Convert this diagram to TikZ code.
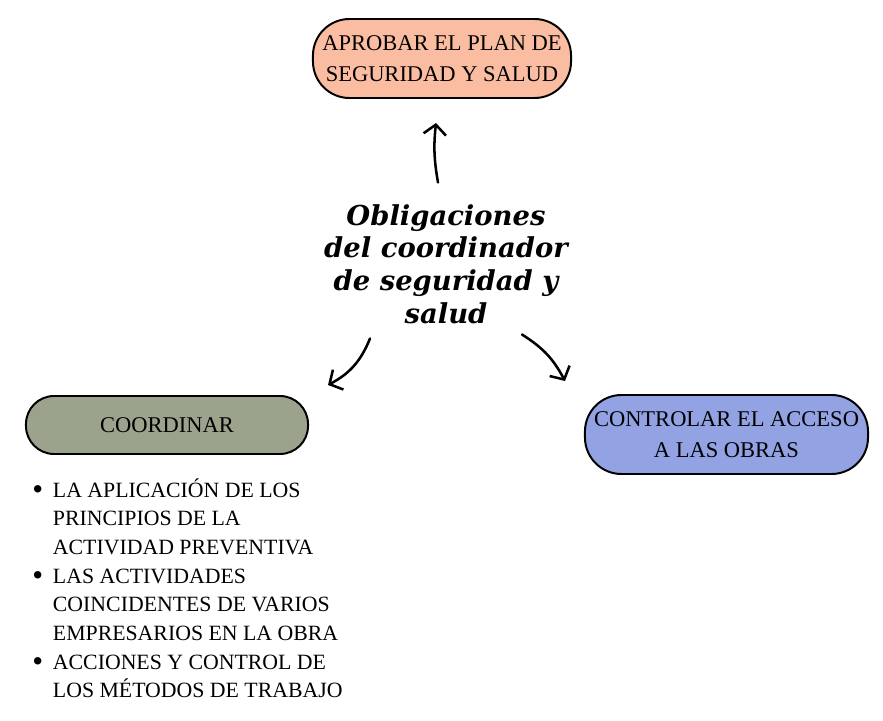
\documentclass[tikz,border=0pt]{standalone}
\usepackage{fontspec}
\setmainfont{Liberation Serif}
\newfontfamily\titlefont{DejaVu Serif}
\usetikzlibrary{arrows.meta,calc}

\definecolor{peach}{RGB}{251,189,162}
\definecolor{sage}{RGB}{155,163,140}
\definecolor{periwinkle}{RGB}{146,162,227}

\tikzset{
  pill/.style={draw=black, line width=1.4pt, rounded corners=26pt, align=center, inner sep=0pt, font=\fontsize{16}{22}\selectfont},
  arr/.style={-{Straight Barb[length=7pt,width=16pt]}, line width=1.8pt, line cap=round}
}

\begin{document}
\begin{tikzpicture}[x=0.025cm,y=-0.025cm]
  \useasboundingbox (0,0) rectangle (883,721);
  % centre text
  \node[font=\titlefont\bfseries\itshape\fontsize{19.5}{23.2}\selectfont, align=center] (title) at (446,264) {Obligaciones\\del coordinador\\de seguridad y\\salud};
  % the three tasks
  \node[pill, fill=peach, minimum width=6.45cm, minimum height=1.975cm] (aprobar) at (442,58.5) {APROBAR EL PLAN DE\\SEGURIDAD Y SALUD};
  \node[pill, fill=sage, rounded corners=20pt, minimum width=7.05cm, minimum height=1.45cm] (coordinar) at (167,425) {COORDINAR};
  \node[pill, fill=periwinkle, minimum width=7.075cm, minimum height=1.975cm] (controlar) at (726.5,434.5) {CONTROLAR EL ACCESO\\A LAS OBRAS};
  % list under COORDINAR
  \node[anchor=base west, inner sep=0pt, font=\fontsize{15.5}{20.4}\selectfont] (tareas) at (32,497) {%
    \begin{tabular}[t]{@{}l@{\hspace{7pt}}l@{}}
      \raisebox{-2pt}{\fontsize{22}{22}\selectfont\textbullet} & LA APLICACIÓN DE LOS\\
      & PRINCIPIOS DE LA\\
      & ACTIVIDAD PREVENTIVA\\
      \raisebox{-2pt}{\fontsize{22}{22}\selectfont\textbullet} & LAS ACTIVIDADES\\
      & COINCIDENTES DE VARIOS\\
      & EMPRESARIOS EN LA OBRA\\
      \raisebox{-2pt}{\fontsize{22}{22}\selectfont\textbullet} & ACCIONES Y CONTROL DE\\
      & LOS MÉTODOS DE TRABAJO
    \end{tabular}};
  % arrows
  \draw[arr] ($(title.north)+(-8,-17)$) to[bend left=8] ($(aprobar.south)+(-6,24)$);
  \draw[arr] ($(title.south)+(-76,10)$) to[bend left=20] ($(coordinar.north east)+(19,-10)$);
  \draw[arr] ($(title.south)+(76,6)$) to[bend left=15] ($(controlar.north west)+(-19,-13)$);
\end{tikzpicture}
\end{document}
